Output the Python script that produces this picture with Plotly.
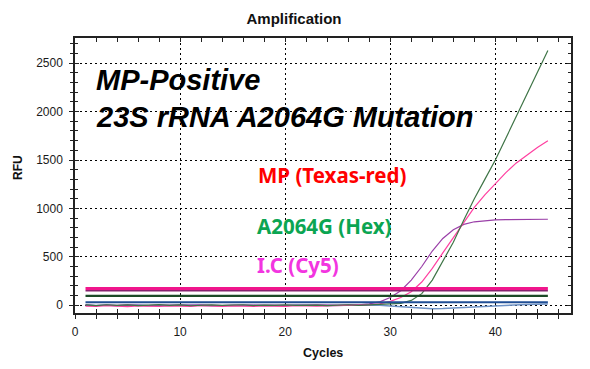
import plotly.graph_objects as go

cycles = list(range(1, 46))

# amplification curves (RFU)
green_amp = [3, -4, 5, -2, 4, -3, 2, 6, -1, 3, -5, 2, 4, -2, 1, 5, -3, 2, -1, 4,
             -2, 3, 1, -4, 2, 5, -1, 3, 6, 10, 20, 50, 120, 260, 450, 650, 880,
             1100, 1300, 1500, 1725, 1950, 2170, 2400, 2630]
pink_amp = [-8, -12, -5, -10, -14, -6, -9, -13, -7, -10, -12, -5, -9, -11, -6,
            -10, -13, -7, -9, -11, -5, -8, -10, -6, -4, -2, 0, 5, 15, 40, 80,
            140, 240, 380, 540, 700, 860, 1010, 1140, 1260, 1370, 1470, 1550,
            1630, 1700]
purple_amp = [2, -3, 1, -2, 3, 0, -4, 2, 1, -3, 2, 4, -1, -3, 1, 3, -2, 0, 2, -1,
              -3, 1, 3, 0, 2, 4, 5, 15, 35, 80, 150, 260, 400, 560, 690, 780,
              835, 862, 875, 882, 885, 887, 888, 888, 888]
blue_noise = [5, -3, 2, -5, 0, 3, -2, -6, -3, 2, 4, 0, -4, -2, 3, 5, 1, -3, -5,
              -2, 2, 4, 1, -2, -4, -1, 2, 3, 0, -8, -15, -25, -32, -35, -33, -28,
              -20, -12, -6, -2, 2, 5, 8, 10, 12]

# flat traces
magenta_flat = [172] * 45
darkpurple_flat = [150] * 45
darkgreen_flat = [96] * 45
navy_flat = [31] * 45

x_ticks = [0, 10, 20, 30, 40]
y_ticks = [0, 500, 1000, 1500, 2000, 2500]

fig = go.Figure()

def add(y, color, width):
    fig.add_trace(go.Scatter(x=cycles, y=y, mode="lines",
                             line=dict(color=color, width=width),
                             hoverinfo="skip", showlegend=False))

add(blue_noise, "#6F93C6", 1.5)
add(purple_amp, "#9A3FA8", 1.2)
add(pink_amp, "#FF3FA0", 1.2)
add(green_amp, "#3E7446", 1.2)
add(navy_flat, "#1F4E95", 2.2)
add(darkgreen_flat, "#1B4A26", 2.2)
add(darkpurple_flat, "#87206E", 1.6)
add(magenta_flat, "#F0168C", 3)

# invisible trace for overlay axes
fig.add_trace(go.Scatter(x=[0], y=[0], xaxis="x2", yaxis="y2", mode="markers",
                         marker=dict(opacity=0), hoverinfo="skip", showlegend=False))

# the page body has an 8px margin: the figure is shrunk by 8px and all
# pixel positions below are page positions shifted by OFF
OFF = 8
FW, FH = 590 - OFF, 369 - OFF
L, R, T, B = 75, 571, 38, 313   # plot area, page pixels

XR = [0, 47.2]
YR = [-80, 2760]
tickfont = dict(family="Arial", size=12, color="#1a1a1a")
grid = dict(showgrid=True, gridcolor="#000000", gridwidth=1, griddash="2px,3px")

fig.update_layout(
    width=FW, height=FH,
    margin=dict(l=L - OFF, r=590 - R, t=T - OFF, b=369 - B, autoexpand=False),
    paper_bgcolor="white", plot_bgcolor="white",
    title=dict(text="<b>Amplification</b>", x=(294 - OFF) / FW, xanchor="center",
               y=1 - (19 - OFF) / FH, yanchor="middle",
               font=dict(family="Arial", size=15, color="#111")),
    xaxis=dict(range=XR, tickvals=x_ticks, ticks="outside", ticklen=4,
               tickcolor="#222", tickwidth=1.2,
               minor=dict(dtick=2, tick0=0, ticks="outside", ticklen=4,
                          tickcolor="#222", showgrid=False),
               showline=True, linecolor="#222", linewidth=1.5, mirror=True,
               tickfont=tickfont, zeroline=False, ticklabelstandoff=3, **grid),
    yaxis=dict(range=YR, tickvals=y_ticks, ticks="outside", ticklen=4,
               tickcolor="#222", tickwidth=1.2,
               minor=dict(dtick=100, tick0=0, ticks="outside", ticklen=3,
                          tickcolor="#222", showgrid=False),
               showline=True, linecolor="#222", linewidth=1.5, mirror=True,
               tickfont=tickfont, zeroline=False, ticklabelstandoff=4, **grid),
    xaxis2=dict(range=XR, overlaying="x", anchor="y", tickvals=x_ticks,
                ticks="inside", ticklen=4, tickcolor="#222", tickwidth=1.2,
                minor=dict(dtick=2, tick0=0, ticks="inside", ticklen=4,
                           tickcolor="#222"),
                mirror="ticks", showline=False, showticklabels=False,
                showgrid=False, zeroline=False),
    yaxis2=dict(range=YR, overlaying="y", anchor="x", tickvals=y_ticks,
                ticks="inside", ticklen=4, tickcolor="#222", tickwidth=1.2,
                minor=dict(dtick=100, tick0=0, ticks="inside", ticklen=3,
                           tickcolor="#222"),
                mirror="ticks", showline=False, showticklabels=False,
                showgrid=False, zeroline=False),
)

W, H = R - L, B - T
def px(x):
    return (x - L) / W
def py(y):
    return (B - y) / H

big = dict(family="Arial", size=29, color="#000", weight="bold", style="italic")
lab = dict(family="Noto Sans", size=20.5, weight="bold")

annots = [
    ("MP-Positive", 94, 80, big),
    ("23S rRNA A2064G Mutation", 94, 117, big),
    ("MP (Texas-red)", 256, 175, dict(lab, color="#FF0000")),
    ("A2064G (Hex)", 255, 226, dict(lab, color="#0BA552")),
    ("I.C (Cy5)", 255, 265, dict(lab, color="#F235E0")),
]
for text, x, y, f in annots:
    fig.add_annotation(text=text, xref="paper", yref="paper", x=px(x), y=py(y),
                       xanchor="left", yanchor="middle", showarrow=False, font=f)

fig.add_annotation(text="<b>Cycles</b>", xref="paper", yref="paper",
                   x=px(323), y=py(353), xanchor="center", yanchor="middle",
                   showarrow=False, font=dict(family="Arial", size=12.5, color="#111"))
fig.add_annotation(text="<b>RFU</b>", xref="paper", yref="paper",
                   x=px(18), y=py(168), xanchor="center", yanchor="middle",
                   textangle=-90, showarrow=False,
                   font=dict(family="Arial", size=12, color="#111"))

fig.write_html("out.html")
